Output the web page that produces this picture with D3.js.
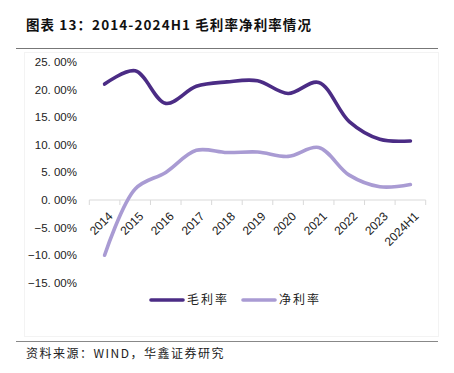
<!DOCTYPE html>
<meta charset="utf-8">
<body style="margin:0;background:#fff">

<svg width="454" height="373"></svg>

<script src="https://d3js.org/d3.v7.min.js"></script>
<script>

// data
var years = ['2014','2015','2016','2017','2018','2019','2020','2021','2022','2023','2024H1'];
var gross = [21.0, 23.4, 17.5, 20.6, 21.4, 21.6, 19.3, 21.3, 14.2, 11.0, 10.7];
var net = [-10.0, 2.0, 5.0, 9.0, 8.6, 8.7, 7.9, 9.5, 4.5, 2.4, 2.8];
var yTicks = [25, 20, 15, 10, 5, 0, -5, -10, -15];
var seriesNames = ['毛利率', '净利率'];
var colors = ['#4b2c85', '#a99bd3'];

var svg = d3.select('svg');
var cjk = '"Noto Sans CJK SC", sans-serif';
var latin = '"Liberation Sans", Arial, sans-serif';

// title + rule
svg.append('text')
  .attr('x', 26).attr('y', 30)
  .attr('font-family', cjk).attr('font-weight', 'bold')
  .attr('font-size', 13.5).attr('letter-spacing', 1.1).attr('fill', '#111')
  .text('图表 13：2014-2024H1 毛利率净利率情况');
svg.append('line')
  .attr('x1', 16).attr('x2', 438).attr('y1', 48.5).attr('y2', 48.5)
  .attr('stroke', '#777').attr('stroke-width', 1.2);

// faint chart frame
svg.append('rect')
  .attr('x', 24.5).attr('y', 52.5).attr('width', 414).attr('height', 284)
  .attr('fill', 'none').attr('stroke', '#f3f3f3');

var x = d3.scaleBand().domain(years).range([89.3, 425.7]);
var y = d3.scaleLinear().domain([-15, 25]).range([282.8, 62]);

// y labels, the reference shows "25. 00%" style
function pct(d) {
  var s = Math.abs(d).toFixed(2).replace('.', '. ') + '%';
  return (d < 0 ? '\u2212' : '') + s;
}
svg.append('g')
  .selectAll('text').data(yTicks).join('text')
  .attr('x', 77).attr('y', d => y(d)).attr('dy', '0.35em')
  .attr('text-anchor', 'end')
  .attr('font-family', latin).attr('font-size', 11.5)
  .attr('fill', '#222')
  .text(pct);

// x axis at zero
var xAxis = svg.append('g')
  .attr('transform', 'translate(0,' + y(0) + ')');
xAxis.append('line')
  .attr('x1', x.range()[0]).attr('x2', x.range()[1])
  .attr('stroke', '#d9d9d9');
xAxis.selectAll('.tk').data(d3.range(years.length + 1)).join('line')
  .attr('x1', i => x.range()[0] + i * x.step())
  .attr('x2', i => x.range()[0] + i * x.step())
  .attr('y1', 0).attr('y2', 5)
  .attr('stroke', '#d9d9d9');

// x labels
xAxis.selectAll('text').data(years).join('text')
  .attr('transform', d => 'translate(' + (x(d) + x.bandwidth() / 2 + 3) + ',11) rotate(-45)')
  .attr('text-anchor', 'end').attr('dy', '0.7em')
  .attr('font-family', latin).attr('font-size', 12)
  .attr('fill', '#222')
  .text(d => d);

// lines
var line = d3.line()
  .x((d, i) => x(years[i]) + x.bandwidth() / 2)
  .y(d => y(d))
  .curve(d3.curveCatmullRom.alpha(0.5));

[gross, net].forEach(function(s, k) {
  svg.append('path')
    .attr('d', line(s))
    .attr('fill', 'none')
    .attr('stroke', colors[k])
    .attr('stroke-width', 3.6)
    .attr('stroke-linecap', 'round');
});

// legend
var legX = [151, 243];
seriesNames.forEach(function(n, k) {
  var g = svg.append('g').attr('transform', 'translate(' + legX[k] + ',300)');
  g.append('line').attr('x1', 0).attr('x2', 32)
    .attr('stroke', colors[k]).attr('stroke-width', 3.6).attr('stroke-linecap', 'round');
  g.append('text').attr('x', 36).attr('dy', '0.36em')
    .attr('font-family', cjk).attr('font-size', 12).attr('letter-spacing', 2)
    .attr('fill', '#222')
    .text(n);
});

// source
svg.append('line')
  .attr('x1', 16).attr('x2', 438).attr('y1', 341.5).attr('y2', 341.5)
  .attr('stroke', '#888').attr('stroke-width', 1.2);
svg.append('text')
  .attr('x', 26).attr('y', 358)
  .attr('font-family', cjk).attr('font-size', 12).attr('letter-spacing', 1.5)
  .attr('fill', '#222')
  .text('资料来源：WIND，华鑫证券研究');

</script>
